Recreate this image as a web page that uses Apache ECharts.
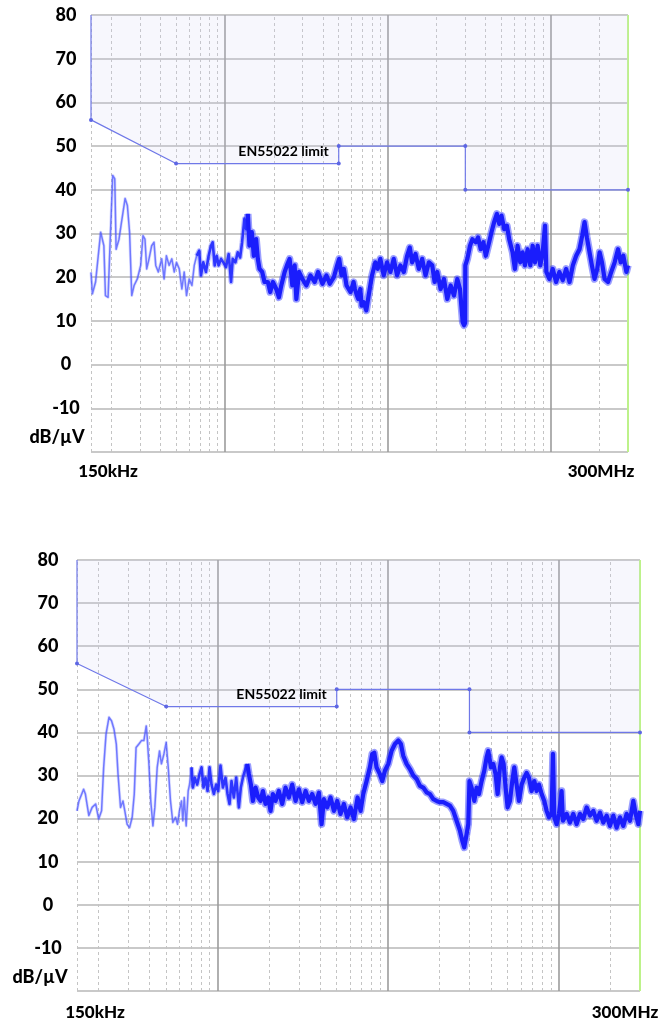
<!DOCTYPE html>
<html>
<head>
<meta charset="utf-8">
<script src="https://cdn.jsdelivr.net/npm/echarts@6/dist/echarts.min.js"></script>
<style>
  html, body { margin: 0; padding: 0; background: #ffffff; }
  #chart { width: 665px; height: 1025px; }
</style>
</head>
<body>
<div id="chart"></div>
<script>
// ---- Axis text ----------------------------------------------------------
const freqLabels = ['150kHz', '300MHz'];
const unitLabel = 'dB/\u00b5V';
const limitName = 'EN55022 limit';

// ---- EN55022 limit (frequency in MHz, level in dB\u00b5V) ---------------------
const limitFreq  = [0.15, 0.15, 0.5, 5, 5, 30, 30, 300];
const limitLevel = [80,   56,   46,  46, 50, 50, 40, 40];

// ---- Frequency grid (MHz) ---------------------------------------------------
const decadeLines = [1, 10, 100];
const minorLines = [0.15, 0.2, 0.3, 0.4, 0.5, 0.6, 0.7, 0.8, 0.9,
                    2, 3, 4, 5, 6, 7, 8, 9,
                    20, 30, 40, 50, 60, 70, 80, 90, 200];
const sweepEnd = 300;

// ---- Upper plot: measured emission [MHz, dB\u00b5V] ---------------------------
const upperLow = [
  [0.15,21.1],[0.153,16.2],[0.160,18.9],[0.172,30.3],[0.180,27.2],[0.184,15.8],[0.191,15.4],
  [0.198,31],[0.204,43.3],[0.210,42.5],[0.214,26.4],[0.223,28.7],[0.231,32.6],[0.243,38],
  [0.251,36.4],[0.259,30.3],[0.267,15.8],[0.276,18.1],[0.289,19.6],[0.303,22.7],[0.313,29.5],
  [0.322,28.7],[0.330,21.9],[0.341,24.2],[0.354,27.2],[0.366,28],[0.375,22.7],[0.389,21.2],
  [0.408,24.2],[0.422,19.6],[0.436,24.9],[0.453,22.7],[0.471,24.2],[0.487,21.2],[0.503,23.4],
  [0.523,21.9],[0.543,17.3],[0.561,21.2],[0.580,15.8],[0.602,19.6],[0.626,18.1],[0.647,22.7],
  [0.669,24.9]
];
const upperMid = [
  [0.669,24.9],[0.694,26.1],[0.711,20.4],[0.735,23.4],[0.763,21.2],[0.793,24.9],[0.820,27.2],
  [0.839,28],[0.864,22.7],[0.889,24.9],[0.914,22.7],[0.945,24.2],[0.976,23.4],[1.014,22.3],
  [1.053,25.3],[1.089,18.9],[1.115,24.2],[1.158,23.4],[1.197,25.7],[1.238,24.5],[1.273,28],
  [1.316,33.4],[1.348,31],[1.380,34.5]
];
const upperHigh = [
  [1.380,34.5],[1.413,27.2],[1.461,30.3],[1.503,24.9],[1.553,28.7],[1.591,24.2],[1.629,21.9],
  [1.692,21.2],[1.749,18.9],[1.834,18.9],[1.896,16.6],[1.969,18.9],[2.065,17.3],[2.145,15.4],
  [2.217,18.1],[2.325,21.2],[2.403,22.7],[2.495,24.2],[2.592,18.1],[2.679,22.7],[2.744,15],
  [2.849,21.2],[2.988,19.6],[3.162,18.1],[3.347,20.4],[3.559,18.9],[3.733,21.2],[3.970,18.5],
  [4.203,20.4],[4.406,18.5],[4.664,20],[4.891,22.7],[5.030,24.2],[5.200,20.4],[5.375,21.9],
  [5.583,18.1],[5.910,16.6],[6.167,18.9],[6.286,17.3],[6.468,15.8],[6.591,15],[6.783,17.3],
  [6.910,13.5],[7.111,14.3],[7.386,12.4],[7.634,15.8],[8.006,20.4],[8.394,23.4],[8.677,21.9],
  [9.010,24.2],[9.447,20.4],[9.906,23.4],[10.39,21.2],[10.89,24.2],[11.42,20.4],[11.97,22.7],
  [12.56,21.2],[13.16,24.9],[13.67,26.8],[14.13,23.4],[14.82,25.3],[15.54,21.9],[16.29,24.2],
  [17.08,20.4],[17.91,23.4],[18.78,22.7],[19.42,18.9],[20.16,21.2],[21.14,17.3],[22.17,19.6],
  [23.25,15],[24.37,18.1],[25.55,15.8],[26.79,19.6],[27.82,17.3],[28.35,13.5],[28.90,9.7],
  [29.45,9.0],[29.9,9.5],[30.0,22.7],[30.88,24.2],[32.07,27.2],[33.16,28.7],[34.77,28],
  [35.94,29.1],[37.33,26.4],[38.78,28],[40.08,24.9],[42.03,28],[43.44,30.3],[45.11,32.6],
  [46.86,34.5],[48.44,32.2],[50.07,34.1],[52.00,31],[54.02,31.8],[55.83,28.7],[58.54,25.7],
  [60.52,21.9],[62.86,27.2],[65.29,23.4],[67.49,25.7],[69.76,22.7],[72.46,26.4],[75.25,22.7],
  [77.79,27.2],[80.41,23.4],[83.51,27.2],[86.74,22.7],[89.66,25.7],[92.70,31.8],[94.47,21.2],
  [98.6,19.6],[103.4,21.9],[108.4,18.9],[113.6,21.2],[119.2,19.3],[125.0,21.9],[131.1,18.9],
  [137.4,22.7],[144.1,24.9],[151.0,26.4],[156.9,29.5],[162.2,32.6],[167.6,29.1],[174.1,25.7],
  [179.9,22.7],[186.8,19.6],[194.1,21.9],[200.7,25.7],[207.5,23.4],[215.4,19.6],[225.9,18.9],
  [236.8,21.2],[248.4,23.4],[260.4,26.4],[270.5,23.4],[280.9,24.9],[293.2,21.2],[300,22.7]
];

// ---- Lower plot: measured emission [MHz, dB\u00b5V] ---------------------------
const lowerLow = [
  [0.15,21.8],[0.154,24.1],[0.164,26.8],[0.168,25.7],[0.176,20.7],[0.184,22.6],[0.193,23.4],
  [0.201,19.9],[0.209,21.8],[0.215,31.9],[0.222,39.6],[0.231,43.5],[0.239,42.7],[0.247,40.8],
  [0.255,37.3],[0.261,30.3],[0.270,22.6],[0.279,24.1],[0.286,21.8],[0.295,18.7],[0.305,17.9],
  [0.316,20.3],[0.325,25.7],[0.333,36.5],[0.346,37.3],[0.358,38.1],[0.370,38.1],[0.382,41.5],
  [0.387,38.9],[0.396,32.7],[0.406,24.1],[0.418,18.3],[0.429,22.6],[0.443,31.9],[0.457,35.7],
  [0.469,32.7],[0.485,35],[0.500,37.7],[0.514,31.9],[0.530,24.1],[0.547,19.1],[0.567,20.3],
  [0.583,18.7],[0.598,21.8],[0.615,24.1],[0.626,19.5],[0.638,24.9],[0.655,18.3],[0.673,26.4],
  [0.685,27.9],[0.704,31.9]
];
const lowerMid = [
  [0.704,31.9],[0.717,27.2],[0.736,29.5],[0.760,27.9],[0.784,30.3],[0.806,31.9],[0.828,27.2],
  [0.850,29.5],[0.874,26.4],[0.898,31.9],[0.922,27.9],[0.952,25.7],[0.982,27.9],[1.009,26.4],
  [1.041,32.3],[1.075,27.2],[1.114,29.5],[1.145,25.7],[1.176,23.4],[1.208,28.7],[1.247,24.9],
  [1.287,29.5],[1.334,22.6],[1.370,27.2],[1.408,29.5],[1.446,31.1],[1.493,32.7]
];
const lowerHigh = [
  [1.493,32.7],[1.527,30.3],[1.569,27.9],[1.612,24.1],[1.671,27.2],[1.732,24.9],[1.787,24.1],
  [1.845,26.4],[1.912,23.4],[1.983,24.9],[2.046,21.8],[2.111,25.7],[2.189,24.1],[2.289,26.4],
  [2.395,23.4],[2.505,27.2],[2.620,24.9],[2.741,27.9],[2.868,24.1],[2.999,26.8],[3.137,23.8],
  [3.282,26.4],[3.433,24.1],[3.591,25.7],[3.756,23.4],[3.929,26],[4.074,18.7],[4.205,24.5],
  [4.398,22.6],[4.600,24.9],[4.812,21.8],[5.033,24.1],[5.265,21.1],[5.508,23.4],[5.761,20.3],
  [6.026,22.6],[6.304,19.9],[6.625,24.9],[6.898,21.8],[7.151,25.7],[7.480,28.7],[7.825,31.9],
  [8.075,35],[8.299,35.3],[8.562,31.9],[8.957,30.3],[9.244,28.7],[9.583,31.1],[10.03,32.7],
  [10.48,35.7],[10.97,37.3],[11.48,38.1],[11.89,37.3],[12.27,34.6],[12.84,32.7],[13.43,31.5],
  [14.05,30],[14.70,29.2],[15.37,27.6],[16.08,27.2],[16.82,26.1],[17.60,25.7],[18.41,24.5],
  [19.25,24.1],[20.14,23.8],[21.07,23.8],[22.03,23.4],[23.05,23],[24.11,21.8],[25.22,19.5],
  [26.38,17.2],[27.23,14.9],[27.97,13.3],[28.87,16.4],[29.53,18.7],[30.0,28.7],[30.89,27.2],
  [32.02,24.1],[33.04,27.2],[34.10,25.7],[35.35,28.7],[36.64,31.1],[37.82,34.2],[38.68,35.7],
  [40.10,31.9],[41.39,32.7],[42.71,30.3],[43.88,25.7],[45.29,31.9],[46.32,34.2],[47.58,32.7],
  [48.88,27.2],[50.22,22.6],[51.83,24.1],[53.49,28.7],[54.95,31.9],[56.71,27.9],[58.53,24.1],
  [60.67,27.9],[62.89,29.5],[64.91,30.6],[66.98,29.5],[69.44,26.4],[71.99,28.7],[74.30,26.4],
  [76.68,27.9],[79.49,25.7],[82.40,24.1],[85.04,21.8],[87.77,20.3],[90.96,21.1],[92.64,35],
  [94.32,20.3],[97.34,18.7],[100.5,21.1],[104.1,26.4],[106.0,19.5],[111.4,21.1],[116.5,19.1],
  [121.9,21.1],[127.5,18.7],[133.4,21.1],[139.5,19.9],[146.0,22.6],[152.7,20.7],[159.7,21.8],
  [167.1,19.5],[174.8,21.4],[182.8,19.1],[191.2,20.7],[200.0,18.3],[209.2,20.7],[218.9,17.9],
  [228.9,20.3],[239.4,18.3],[250.5,21.1],[262.0,19.5],[274.1,24.1],[282.8,21.1],[293.3,18.7],
  [300,21.8]
];

// ---- Layout / styling -------------------------------------------------------
const FONT = 'Lato, "Open Sans", "DejaVu Sans", sans-serif';
const plots = [
  { left: 91, top: 15, width: 537, height: 437, labelMargin: 25,
    low: upperLow, mid: upperMid, high: upperHigh },
  { left: 77, top: 560, width: 563, height: 431, labelMargin: 29,
    low: lowerLow, mid: lowerMid, high: lowerHigh }
];

const grid = [], xAxis = [], yAxis = [], series = [];

plots.forEach((p, i) => {
  grid.push({ left: p.left, top: p.top, width: p.width, height: p.height });
  xAxis.push({
    gridIndex: i, type: 'log', logBase: 10, min: 0.15, max: 300,
    axisLine: { show: false }, axisTick: { show: false },
    axisLabel: { show: false }, splitLine: { show: false }
  });
  yAxis.push({
    gridIndex: i, type: 'value', min: -20, max: 80, interval: 10,
    axisLine: { show: false }, axisTick: { show: false },
    axisLabel: {
      formatter: v => (v === -20 ? '' : String(v)),
      color: '#000', fontFamily: FONT, fontWeight: 900, fontSize: 18,
      margin: p.labelMargin, align: 'center'
    },
    splitLine: { lineStyle: { color: '#c9c9c9', width: 2 } }
  });

  // vertical frequency grid (kept beneath the traces)
  const lineItems = [];
  minorLines.forEach(f => lineItems.push({
    xAxis: f, lineStyle: { color: '#c4c4c4', width: 1, type: [3, 3] }
  }));
  decadeLines.forEach(f => lineItems.push({
    xAxis: f, lineStyle: { color: '#9c9c9c', width: 1.6, type: 'solid' }
  }));
  lineItems.push({ xAxis: sweepEnd, lineStyle: { color: '#bdf28a', width: 2, type: 'solid' } });
  series.push({
    type: 'line', xAxisIndex: i, yAxisIndex: i, data: [], z: 1, silent: true,
    markLine: { z: 1, silent: true, symbol: ['none', 'none'], label: { show: false },
                animation: false, data: lineItems }
  });

  // limit line with shaded region above it
  const limitData = limitFreq.map((f, k) => {
    const item = { value: [f, limitLevel[k]] };
    if (k === 0) item.symbol = 'none';
    if (k === 3) {
      item.label = {
        show: true, formatter: limitName, position: 'left', distance: 8,
        offset: [0, -12], color: '#000', fontFamily: FONT,
        fontWeight: 'bold', fontSize: 14
      };
    }
    return item;
  });
  series.push({
    type: 'line', xAxisIndex: i, yAxisIndex: i, data: limitData, z: 2,
    symbol: 'circle', symbolSize: 4, showSymbol: true,
    itemStyle: { color: '#5d66e4' },
    lineStyle: { color: '#6f78e8', width: 1.2 },
    areaStyle: { origin: 'end', color: 'rgba(205,210,246,0.24)' },
    label: { show: false }, animation: false
  });

  // measured emission: a soft fringe under a solid core, heavier where the
  // sweep is denser
  const traces = [
    { data: p.low,  halo: 'rgba(80,92,255,0.22)', haloW: 3,   color: 'rgba(70,82,255,0.72)', width: 1.5 },
    { data: p.mid,  halo: 'rgba(40,50,255,0.32)', haloW: 5,   color: 'rgba(30,38,255,0.9)',  width: 2.6 },
    { data: p.high, halo: 'rgba(30,40,255,0.45)', haloW: 7.5, color: '#1a1dfc',              width: 4.2 }
  ];
  traces.forEach(t => {
    series.push({
      type: 'line', xAxisIndex: i, yAxisIndex: i, data: t.data, z: 3,
      symbol: 'none', showSymbol: false, smooth: false, silent: true,
      lineStyle: { color: t.halo, width: t.haloW, join: 'round' },
      animation: false
    });
    series.push({
      type: 'line', xAxisIndex: i, yAxisIndex: i, data: t.data, z: 4,
      symbol: 'none', showSymbol: false, smooth: false,
      lineStyle: { color: t.color, width: t.width, join: 'round' },
      animation: false
    });
  });
});

// axis captions
const txt = (text, x, y, size) => ({
  type: 'text', x, y, silent: true,
  style: { text, fill: '#000', font: `900 ${size}px ${FONT}`,
           textAlign: 'center', textVerticalAlign: 'middle' }
});
const graphic = [
  txt(unitLabel, 57, 437, 18),
  txt(freqLabels[0], 108, 472, 17),
  txt(freqLabels[1], 601, 472, 17),
  txt(unitLabel, 40, 977, 18),
  txt(freqLabels[0], 95, 1013, 17),
  txt(freqLabels[1], 625, 1013, 17)
];

const chart = echarts.init(document.getElementById('chart'), null, { renderer: 'canvas' });
chart.setOption({
  backgroundColor: '#ffffff',
  animation: false,
  grid, xAxis, yAxis, series, graphic
});
</script>
</body>
</html>
